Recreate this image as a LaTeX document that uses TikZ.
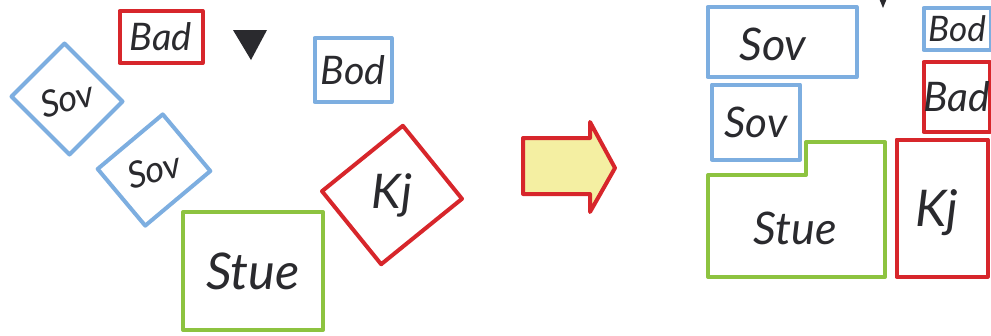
\documentclass[tikz,border=0pt]{standalone}
\usepackage{fontspec}
\setmainfont{Lato}
\usepackage{xcolor}
\usepackage{tikz}
\usetikzlibrary{positioning}
\definecolor{roomred}{HTML}{D7262B}
\definecolor{roomblue}{HTML}{7DAEE0}
\definecolor{roomgreen}{HTML}{8DC340}
\definecolor{roomyellow}{HTML}{F4EFA2}
\definecolor{inkdark}{HTML}{2A2A2E}
\newcommand{\fs}[1]{\fontsize{#1}{#1}\selectfont\itshape}
\tikzset{
  room/.style={draw, line width=1mm, line join=round, inner sep=0pt,
               text=inkdark},
  redroom/.style={room, draw=roomred},
  blueroom/.style={room, draw=roomblue},
  greenroom/.style={room, draw=roomgreen},
  lbl/.style={text=inkdark, inner sep=0pt},
  movearrow/.style={draw=roomred, fill=roomyellow, line width=1mm,
                    line join=round},
}

\begin{document}
\begin{tikzpicture}[x=0.25mm, y=-0.25mm]
  \useasboundingbox (0,0) rectangle (991,335);
  \clip (0,0) rectangle (991,335);

  % loose rooms
  \node[redroom, minimum width=20.75mm, minimum height=13mm, font=\fs{27}]
    (bad) at (161,37) {Bad};
  \node[blueroom, minimum width=19.25mm, minimum height=16mm, font=\fs{28}]
    (bod) at (353,70) {Bod};
  \node[blueroom, rotate=45, minimum width=18.75mm, minimum height=20.5mm,
    font=\fs{26}] (sova) at (67,99) {\rotatebox{-30}{Sov}};
  \node[blueroom, rotate=40, minimum width=21.25mm, minimum height=18.5mm,
    font=\fs{26}] (sovb) at (154,170) {\rotatebox{-25}{Sov}};
  \node[redroom, rotate=39, minimum width=26mm, minimum height=23.5mm,
    font=\fs{34}] (kj) at (392,195) {\rotatebox{-39}{Kj}};
  \node[greenroom, minimum width=35mm, minimum height=29.5mm, font=\fs{36}]
    (stue) at (253,271) {Stue};
  \fill[inkdark] (233,30) -- (267,30) -- (251,60) -- cycle;

  % arrow
  \draw[movearrow] (523,138) -- (590,138) -- (590,122) -- (615,168)
    -- (590,212) -- (590,194) -- (523,194) -- cycle;

  % packed plan
  \node[blueroom, minimum width=37.25mm, minimum height=17.5mm]
    (psova) at (782,42) {};
  \node[lbl, font=\fs{32}] (psovatxt) at (773,44) {Sov};
  \node[blueroom, minimum width=22mm, minimum height=18.75mm, font=\fs{30}]
    (psovb) at (756,122) {Sov};
  \draw[roomgreen, line width=1mm, line join=round]
    (708,277) -- (708,175) -- (806,175) -- (806,142) -- (885,142)
    -- (885,277) -- cycle;
  \node[lbl, font=\fs{32}] (pstue) at (795,228) {Stue};
  \node[redroom, minimum width=22.75mm, minimum height=34.25mm]
    (pkj) at (942,208) {};
  \node[lbl, font=\fs{36}] (pkjtxt) at (937,213) {Kj};
  \node[blueroom, minimum width=16.75mm, minimum height=10.5mm, font=\fs{25}]
    (pbod) at (957,29) {Bod};
  \node[redroom, minimum width=16.25mm, minimum height=17.5mm, font=\fs{29}]
    (pbad) at (957,97) {Bad};
  \fill[inkdark] (874,-14) -- (892,-14) -- (883,8) -- cycle;
\end{tikzpicture}
\end{document}
